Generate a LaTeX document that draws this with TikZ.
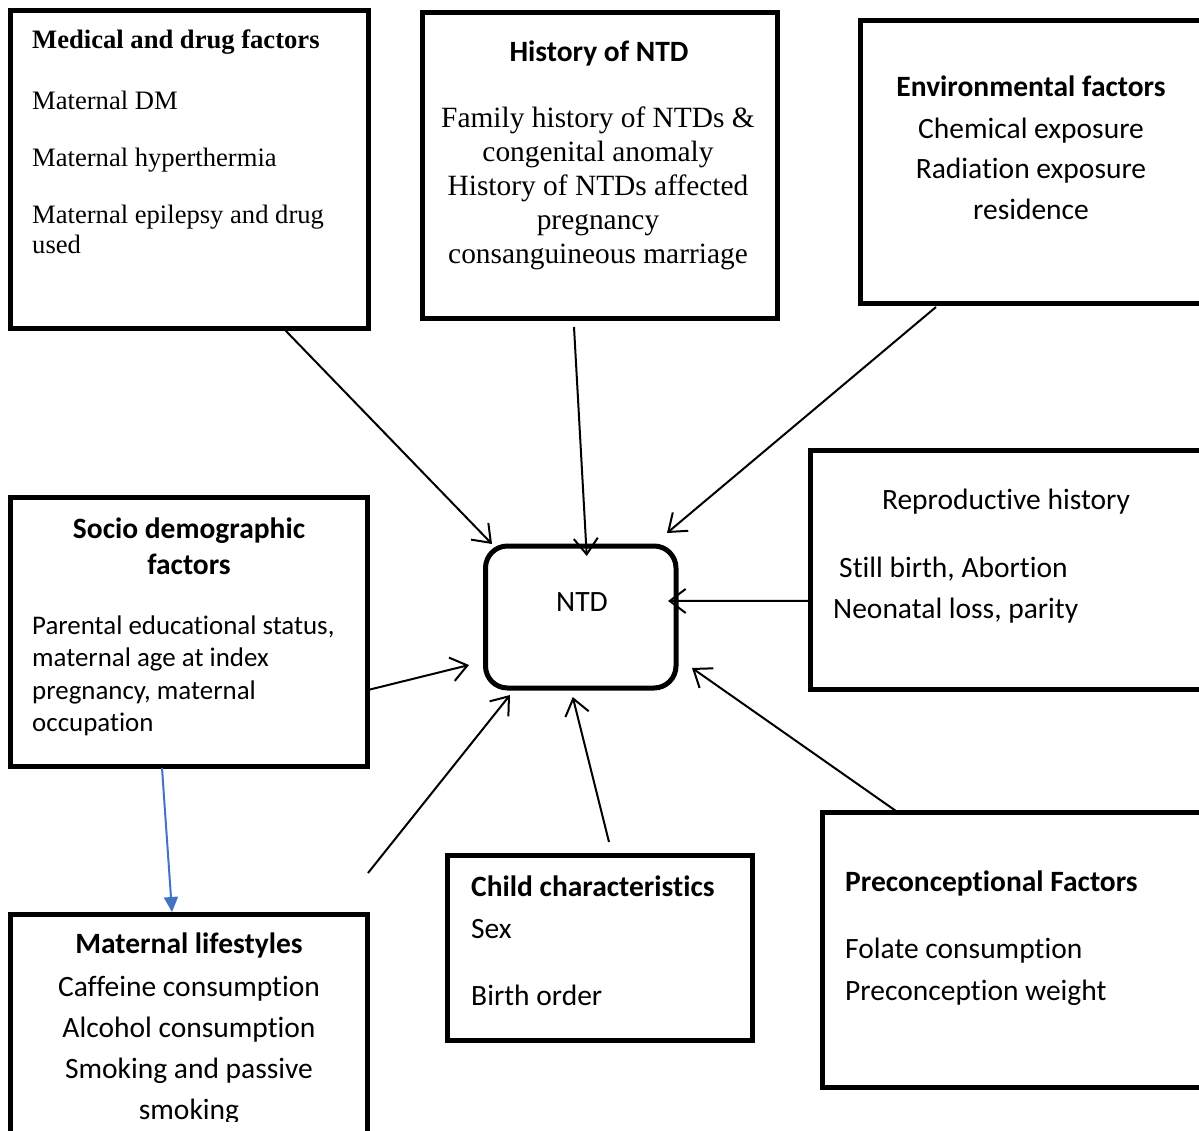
\documentclass[tikz,border=0pt]{standalone}
\usepackage{fontspec}
\setmainfont{Liberation Serif}
\newfontfamily\calib[Ligatures=NoCommon]{Carlito}
\usetikzlibrary{arrows.meta,calc}
\definecolor{ablue}{HTML}{4472C4}
\begin{document}
\begin{tikzpicture}[x=1pt,y=-1pt,
  box/.style={draw, line width=5pt, outer sep=0pt, inner sep=0pt},
  conn/.style={line width=2pt, -{Straight Barb[length=16pt,width=24pt]}},
  bconn/.style={ablue, line width=2pt, -{Triangle[length=15pt,width=14pt]}},
  tmsA/.style={font=\fontsize{26.6}{30}\selectfont, inner sep=0pt},
  tmsAb/.style={font=\fontsize{26.6}{30}\selectfont\bfseries, inner sep=0pt},
  tmsB/.style={font=\fontsize{29.4}{34}\selectfont, inner sep=0pt},
  calA/.style={font=\calib\fontsize{29.5}{34}\selectfont, inner sep=0pt},
  calAb/.style={font=\calib\bfseries\fontsize{29.5}{34}\selectfont, inner sep=0pt},
  calS/.style={font=\calib\fontsize{26.9}{32}\selectfont, inner sep=0pt}]
\useasboundingbox (0,0) rectangle (1199,1131);

% boxes
\node[box, minimum width=357.5, minimum height=318] (med) at (189.25,169.5) {};
\node[box, minimum width=355, minimum height=306] (hist) at (600,165.5) {};
\node[box, minimum width=354.5, minimum height=283] (env) at (1037.75,162) {};
\node[box, rounded corners=22pt, minimum width=190.5, minimum height=142] (ntd) at (580.75,617) {};
\node[box, minimum width=404.5, minimum height=238.5] (rep) at (1012.75,569.75) {};
\node[box, minimum width=356.5, minimum height=268.5] (socio) at (188.75,631.75) {};
\node[box, minimum width=356.5, minimum height=230.5] (life) at (188.75,1029.75) {};
\node[box, minimum width=305, minimum height=185] (child) at (600,948) {};
\node[box, minimum width=392.5, minimum height=275] (prec) at (1018.75,950) {};

% texts: medical
\node[tmsAb, anchor=base west] (med-t) at (32,49) {Medical and drug factors};
\node[tmsA, anchor=base west] (med-1) at (32,110) {Maternal DM};
\node[tmsA, anchor=base west] (med-2) at (32,167) {Maternal hyperthermia};
\node[tmsA, anchor=base west] (med-3) at (32,224) {Maternal epilepsy and drug};
\node[tmsA, anchor=base west] (med-4) at (32,254) {used};

% history
\node[calAb, anchor=base] (hist-t) at (599,62) {History of NTD};
\node[tmsB, anchor=base] (hist-1) at (598,127.5) {Family history of NTDs \&};
\node[tmsB, anchor=base] (hist-2) at (598,161.5) {congenital anomaly};
\node[tmsB, anchor=base] (hist-3) at (598,195.5) {History of NTDs affected};
\node[tmsB, anchor=base] (hist-4) at (598,229.5) {pregnancy};
\node[tmsB, anchor=base] (hist-5) at (598,263.5) {consanguineous marriage};

% environmental
\node[calAb, anchor=base] (env-t) at (1031,96.5) {Environmental factors};
\node[calA, anchor=base] (env-1) at (1031,138.5) {Chemical exposure};
\node[calA, anchor=base] (env-2) at (1031,178.5) {Radiation exposure};
\node[calA, anchor=base] (env-3) at (1031,219.5) {residence};

% reproductive
\node[calA, anchor=base] (rep-t) at (1006,509.5) {Reproductive history};
\node[calA, anchor=base west] (rep-1) at (839,577) {Still birth, Abortion};
\node[calA, anchor=base west] (rep-2) at (833,618) {Neonatal loss, parity};

% NTD
\node[calA, anchor=base] (ntd-l) at (582,611) {NTD};

% socio
\node[calAb, anchor=base] (socio-t1) at (189,538) {Socio demographic};
\node[calAb, anchor=base] (socio-t2) at (189,574) {factors};
\node[calS, anchor=base west] (socio-1) at (32,634) {Parental educational status,};
\node[calS, anchor=base west] (socio-2) at (32,666) {maternal age at index};
\node[calS, anchor=base west] (socio-3) at (32,699) {pregnancy, maternal};
\node[calS, anchor=base west] (socio-4) at (32,731) {occupation};

% lifestyles
\node[calAb, anchor=base] (life-t) at (189,953) {Maternal lifestyles};
\node[calA, anchor=base] (life-1) at (189,996) {Caffeine consumption};
\node[calA, anchor=base] (life-2) at (189,1037) {Alcohol consumption};
\node[calA, anchor=base] (life-3) at (189,1078) {Smoking and passive};
\begin{scope}
\clip (0,0) rectangle (1199,1121);
\node[calA, anchor=base] (life-4) at (189,1119) {smoking};
\end{scope}

% child
\node[calAb, anchor=base west] (child-t) at (471,896) {Child characteristics};
\node[calA, anchor=base west] (child-1) at (471,938) {Sex};
\node[calA, anchor=base west] (child-2) at (471,1005) {Birth order};

% preconceptional
\node[calAb, anchor=base west] (prec-t) at (845,891) {Preconceptional Factors};
\node[calA, anchor=base west] (prec-1) at (845,958) {Folate consumption};
\node[calA, anchor=base west] (prec-2) at (845,1000) {Preconception weight};

% connectors
\draw[conn] ([shift={(95.75,1.5)}]med.south) -- ([shift={(6.5,-2)}]ntd.north west);
\draw[conn] ([shift={(-26,8.5)}]hist.south) -- ([shift={(6,10)}]ntd.north);
\draw[conn] ([shift={(75.5,3.5)}]env.south west) -- ([shift={(-9,-13)}]ntd.north east);
\draw[conn] ([shift={(0,31)}]rep.west) -- ([shift={(-8,-16)}]ntd.east);
\draw[conn] ([shift={(2,58)}]socio.east) -- ([shift={(-16.5,48)}]ntd.west);
\draw[conn] ([shift={(1,-41.5)}]life.north east) -- ([shift={(24.5,7)}]ntd.south west);
\draw[conn] ([shift={(9,-13.5)}]child.north) -- ([shift={(-8,9)}]ntd.south);
\draw[conn] ([shift={(73.5,-1.5)}]prec.north west) -- ([shift={(16,-20)}]ntd.south east);
\draw[bconn] ([shift={(-26.75,2)}]socio.south) -- ([shift={(-16.75,-2.5)}]life.north);
\end{tikzpicture}
\end{document}
